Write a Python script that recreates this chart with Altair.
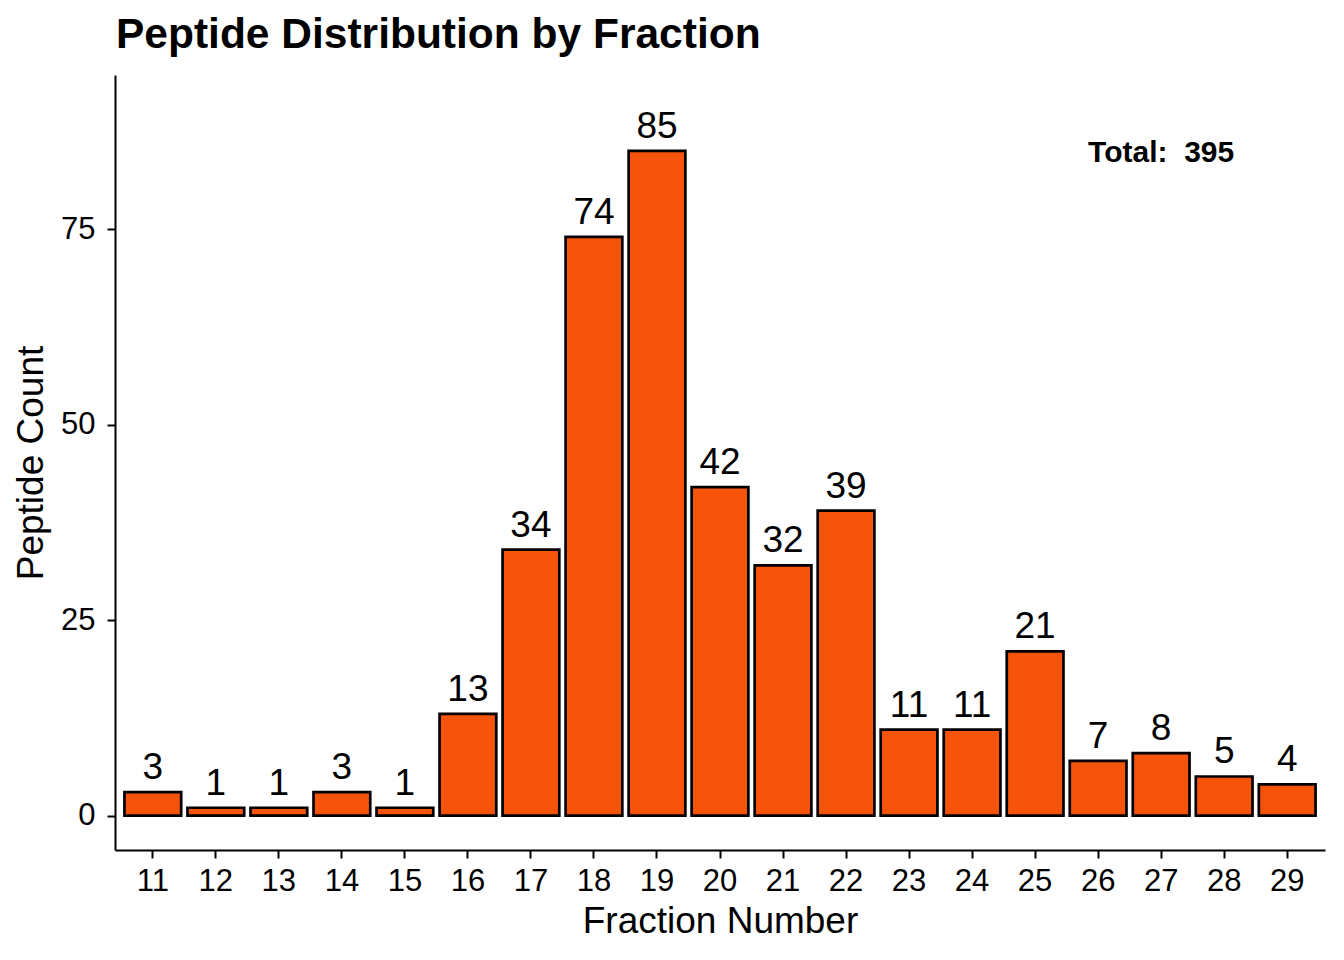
import altair as alt
import pandas as pd

fractions = [str(i) for i in range(11, 30)]
counts = [3, 1, 1, 3, 1, 13, 34, 74, 85, 42, 32, 39, 11, 11, 21, 7, 8, 5, 4]
y_ticks = [0, 25, 50, 75]
total_label = ["Total:\u00a0 395"]
total_x = ["27"]
total_y = [85]

FONT = "Liberation Sans"
FILL = "#F7540B"
YDOM = [-4.4, 94.7]

df = pd.DataFrame({"fraction": fractions, "count": counts})
ann = pd.DataFrame({"fraction": total_x, "count": total_y, "label": total_label})

xenc = alt.X(
    "fraction:N",
    sort=fractions,
    scale=alt.Scale(paddingInner=0.1, paddingOuter=0.15),
    axis=alt.Axis(
        title="Fraction Number",
        labelAngle=0,
        labelFontSize=31,
        labelColor="black",
        labelFont=FONT,
        labelPadding=8,
        titleFontSize=37,
        titleFont=FONT,
        titleFontWeight="normal",
        titleColor="black",
        titlePadding=7,
        domainColor="black",
        domainWidth=2,
        tickColor="black",
        tickWidth=2,
        tickSize=8,
        grid=False,
    ),
)
yenc = alt.Y(
    "count:Q",
    scale=alt.Scale(domain=YDOM, nice=False, zero=False),
    axis=alt.Axis(
        title="Peptide Count",
        values=y_ticks,
        labelFontSize=31,
        labelColor="black",
        labelFont=FONT,
        labelPadding=12,
        titleFontSize=37,
        titleFont=FONT,
        titleFontWeight="normal",
        titleColor="black",
        titlePadding=10,
        domainColor="black",
        domainWidth=2,
        tickColor="black",
        tickWidth=2,
        tickSize=8,
        grid=False,
    ),
)

bars = alt.Chart(df).mark_bar(
    color=FILL, stroke="black", strokeWidth=2.7
).encode(x=xenc, y=yenc, y2=alt.datum(0))

labels = alt.Chart(df).mark_text(
    baseline="alphabetic", dy=-13, fontSize=37, font=FONT, color="black"
).encode(x=alt.X("fraction:N", sort=fractions), y="count:Q", text="count:Q")

total = alt.Chart(ann).mark_text(
    baseline="alphabetic", dy=11, fontSize=30, font=FONT, fontWeight="bold", color="black"
).encode(x=alt.X("fraction:N", sort=fractions), y="count:Q", text="label:N")

chart = (
    alt.layer(bars, labels, total)
    .properties(
        width=1210,
        height=775,
        autosize=alt.AutoSizeParams(type="none"),
        padding={"left": 107, "top": 67, "right": 10, "bottom": 100},
        title=alt.TitleParams(
            "Peptide Distribution by Fraction",
            anchor="start",
            frame="group",
            font=FONT,
            fontSize=42.5,
            fontWeight="bold",
            color="black",
            baseline="alphabetic",
            offset=17,
            dx=1,
            dy=32,
        ),
    )
    .configure(background="white", view=alt.ViewConfig(stroke=None))
)

chart.save("out.html", embed_options={"renderer": "svg", "actions": False})
